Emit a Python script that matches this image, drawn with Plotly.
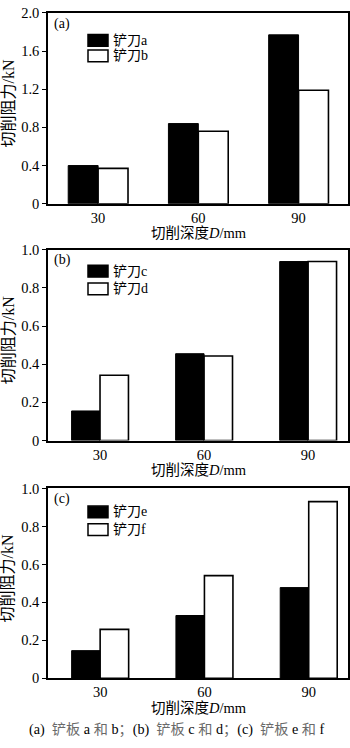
import plotly.graph_objects as go

depths = [30, 60, 90]
# panel (a)
blade_a = [0.40, 0.84, 1.77]
blade_b = [0.37, 0.76, 1.19]
# panel (b)
blade_c = [0.155, 0.455, 0.938]
blade_d = [0.342, 0.443, 0.938]
# panel (c)
blade_e = [0.146, 0.331, 0.478]
blade_f = [0.258, 0.541, 0.931]

names = [("铲刀a", "铲刀b"), ("铲刀c", "铲刀d"), ("铲刀e", "铲刀f")]
series = [(blade_a, blade_b), (blade_c, blade_d), (blade_e, blade_f)]
panel_labels = ["(a)", "(b)", "(c)"]
y_max = [2.0, 1.0, 1.0]
y_ticks = [[0, 0.4, 0.8, 1.2, 1.6, 2.0], [0, 0.2, 0.4, 0.6, 0.8, 1.0], [0, 0.2, 0.4, 0.6, 0.8, 1.0]]
y_ticktext = [["0", "0.4", "0.8", "1.2", "1.6", "2.0"],
              ["0", "0.2", "0.4", "0.6", "0.8", "1.0"],
              ["0", "0.2", "0.4", "0.6", "0.8", "1.0"]]
G = "<span style='color:#6a6a6a'>%s</span>"
caption = ("(a)&nbsp; " + G % "铲板" + " a " + G % "和" + " b" + G % "；" +
           "(b)&nbsp; " + G % "铲板" + " c " + G % "和" + " d" + G % "；" +
           "(c)&nbsp; " + G % "铲板" + " e " + G % "和" + " f")

W, H = 350, 748
L, R = 48, 348
panels = [  # top, bottom pixel of plot area, x range, bar width, legend box tops
    dict(top=5, bot=200, xr=[15, 104.8], bw=8.95, leg=[22, 38]),
    dict(top=247, bot=442, xr=[15, 101.5], bw=8.2, leg=[16, 34]),
    dict(top=491, bot=685, xr=[15, 101.3], bw=8.2, leg=[18, 36]),
]
FONT = "Liberation Serif, 'Times New Roman', 'Noto Sans CJK SC', serif"

fig = go.Figure()
shapes = []
annotations = []
for i, p in enumerate(panels):
    s = "" if i == 0 else str(i + 1)
    xa, ya = "x" + s, "y" + s
    blk, wht = series[i]
    fig.add_trace(go.Bar(x=depths, y=blk, name=names[i][0], xaxis=xa, yaxis=ya,
                         width=p["bw"], offset=-p["bw"],
                         marker=dict(color="black", line=dict(color="black", width=1)),
                         showlegend=False))
    fig.add_trace(go.Bar(x=depths, y=wht, name=names[i][1], xaxis=xa, yaxis=ya,
                         width=p["bw"], offset=0,
                         marker=dict(color="white", line=dict(color="black", width=1.6)),
                         showlegend=False))
    dom_y = [1 - p["bot"] / H, 1 - p["top"] / H]
    common = dict(showline=True, linecolor="black", linewidth=1.5, mirror=True,
                  showgrid=False, zeroline=False,
                  tickfont=dict(family=FONT, size=14.5, color="black"))
    fig.update_layout(**{
        "xaxis" + s: dict(domain=[L / W, R / W], range=p["xr"], anchor=ya,
                          tickvals=depths, ticktext=[str(d) for d in depths],
                          ticks="", **common),
        "yaxis" + s: dict(domain=dom_y, range=[0, y_max[i]], anchor=xa,
                          tickvals=y_ticks[i], ticktext=y_ticktext[i],
                          ticks="outside", ticklen=4, tickwidth=1, tickcolor="black",
                          **common),
    })
    hgt = p["bot"] - p["top"]
    xd, yd = xa + " domain", ya + " domain"
    def fx(px):
        return (px - L) / (R - L)
    def fy(py):
        return 1 - py / hgt
    # legend swatches
    for k, (col, t) in enumerate(zip(["black", "white"], p["leg"])):
        shapes.append(dict(type="rect", xref=xd, yref=yd,
                           x0=fx(88), x1=fx(108), y0=fy(t + 12), y1=fy(t),
                           fillcolor=col, line=dict(color="black", width=1.5)))
        annotations.append(dict(xref=xd, yref=yd, x=fx(111), y=fy(t + 6),
                                text=names[i][k], showarrow=False, xanchor="left",
                                yanchor="middle",
                                font=dict(family=FONT, size=14, color="black")))
    annotations.append(dict(xref=xd, yref=yd, x=fx(52), y=fy(11), text=panel_labels[i],
                            showarrow=False, xanchor="left", yanchor="middle",
                            font=dict(family=FONT, size=14, color="black")))
    # axis titles
    annotations.append(dict(xref="paper", yref="paper", x=199 / W, y=1 - (p["bot"] + 30) / H,
                            text="切削深度<i>D</i>/mm", showarrow=False,
                            xanchor="center", yanchor="middle",
                            font=dict(family=FONT, size=14.5, color="black")))
    annotations.append(dict(xref="paper", yref="paper", x=8 / W,
                            y=1 - ((p["top"] + p["bot"]) / 2 - 5) / H,
                            text="切削阻力/kN", showarrow=False, textangle=-90,
                            xanchor="center", yanchor="middle",
                            font=dict(family=FONT, size=16, color="black")))

annotations.append(dict(xref="paper", yref="paper", x=177 / W, y=1 - 737 / H,
                        text=caption, showarrow=False, xanchor="center", yanchor="middle",
                        font=dict(family=FONT, size=14.2, color="black")))

fig.update_layout(width=W, height=H, margin=dict(l=0, r=0, t=0, b=0),
                  paper_bgcolor="white", plot_bgcolor="white",
                  shapes=shapes, annotations=annotations, showlegend=False,
                  font=dict(family=FONT, color="black"))
fig.write_html("out.html")
